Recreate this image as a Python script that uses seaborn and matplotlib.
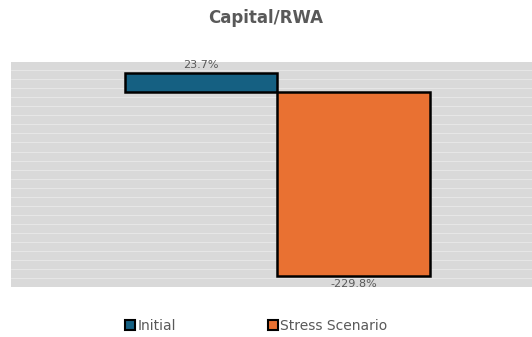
import matplotlib
matplotlib.use("Agg")
import matplotlib.pyplot as plt
import seaborn as sns
import pandas as pd
import numpy as np
from matplotlib.patches import Patch

categories = ["Initial", "Stress Scenario"]
values = [23.7, -229.8]
value_labels = ["23.7%", "-229.8%"]
colors = ["#156082", "#E97132"]

df = pd.DataFrame({"cat": categories, "val": values})

sns.set_style("white")
plt.rcParams["font.family"] = ["DejaVu Sans"]

fig = plt.figure(figsize=(5.32, 3.37), dpi=100)
ax = fig.add_axes([11/532, 1-287/337, 1.0 - 11/532, 225/337])
ax.set_facecolor("#D9D9D9")

sns.barplot(data=df, x="cat", y="val", hue="cat", palette=colors, dodge=False,
            saturation=1, width=1.0, edgecolor="black", linewidth=1.8, legend=False,
            ax=ax, zorder=3)

ax.set_ylim(-243.6, 37.9)
ax.set_xlim(-1.245, 2.17)
for yv in np.arange(-243.6, 37.9, 11.3):
    ax.axhline(yv, color="#E6E6E6", lw=0.8, zorder=1)

for i, (v, lab) in enumerate(zip(values, value_labels)):
    if v >= 0:
        ax.text(i, v + 4, lab, ha="center", va="bottom", fontsize=8, color="#595959")
    else:
        ax.text(i, v - 4, lab, ha="center", va="top", fontsize=8, color="#595959")

ax.set_xticks([])
ax.set_yticks([])
ax.set_xlabel("")
ax.set_ylabel("")
for s in ax.spines.values():
    s.set_visible(False)

fig.text(0.5, 1-18/337, "Capital/RWA", ha="center", va="center", fontsize=12,
         fontweight="bold", color="#595959")

handles = [Patch(facecolor=c, edgecolor="black", linewidth=1.5) for c in colors]
fig.legend(handles, categories, loc="center", bbox_to_anchor=(0.482, 1-326/337), ncol=2,
           frameon=False, fontsize=10, handlelength=0.7, handleheight=0.7,
           handletextpad=0.2, columnspacing=6.6, labelcolor="#595959")

fig.savefig("out.png", dpi=100)
